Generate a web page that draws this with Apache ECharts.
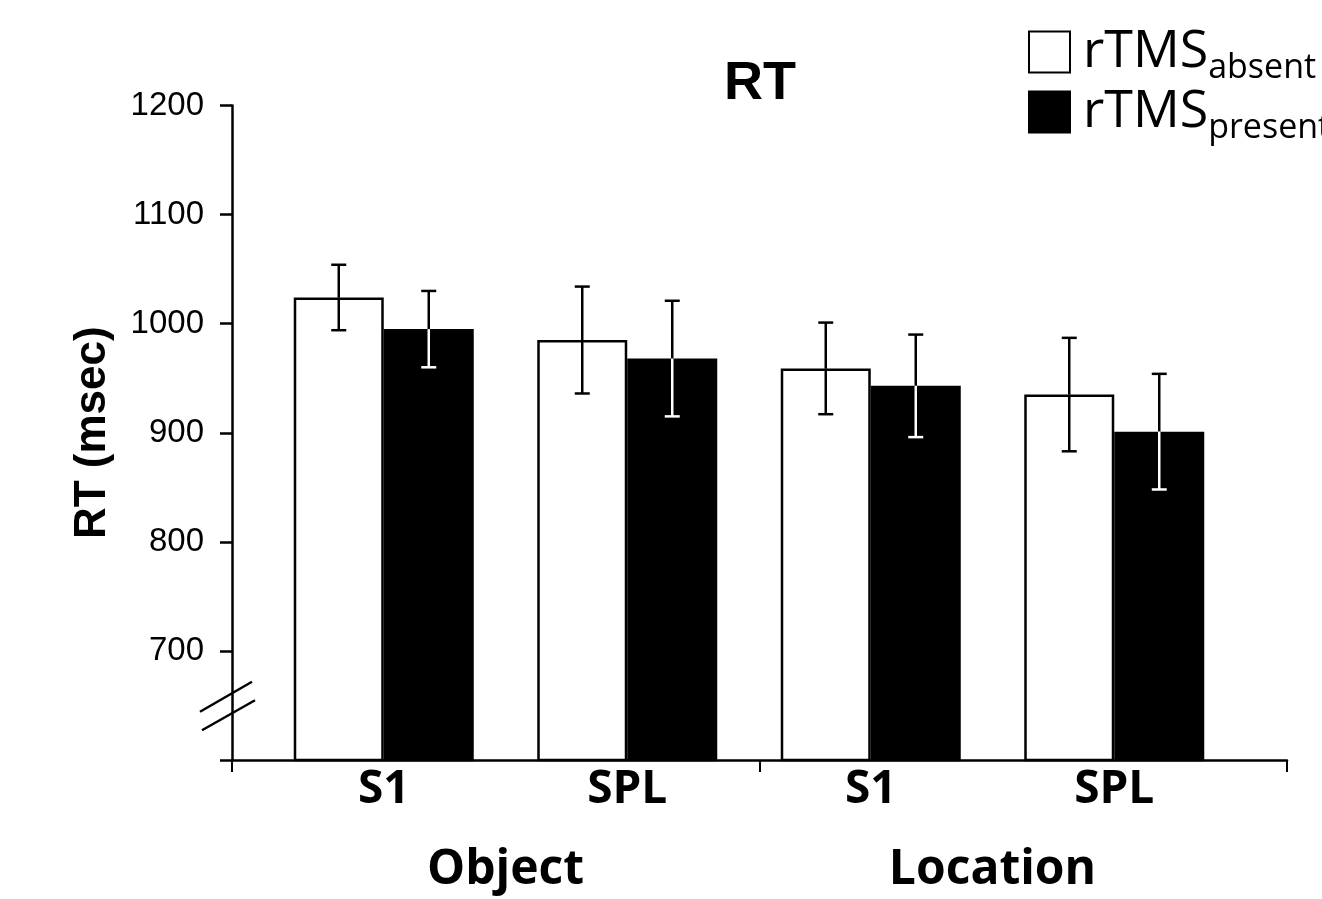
<!DOCTYPE html>
<html>
<head>
<meta charset="utf-8">
<script src="https://cdn.jsdelivr.net/npm/echarts@6/dist/echarts.min.js"></script>
<style>
html,body{margin:0;padding:0;background:#fff;}
#chart{width:1322px;height:899px;}
</style>
</head>
<body>
<div id="chart"></div>
<script>
// ---- data ----
const categories = ['S1', 'SPL', 'S1', 'SPL'];
const groups = ['Object', 'Location'];
const absentMean = [1024, 985, 959, 935];
const absentErr = [30, 49, 42, 52];
const presentMean = [995, 968, 943, 901];
const presentErr = [35, 53, 47, 53];
const yTicks = [600, 700, 800, 900, 1000, 1100, 1200];

const BAR_W = 90;
const CAP = 15;
const GRID_LEFT = 232;
const chart = echarts.init(document.getElementById('chart'));

function errRender(offsetSign, insideWhite) {
  return function (params, api) {
    const idx = api.value(0), m = api.value(1), e = api.value(2);
    const c = api.coord([idx, m]);
    const x = c[0] + offsetSign * BAR_W / 2;
    const yT = api.coord([idx, m + e])[1];
    const yB = api.coord([idx, m - e])[1];
    const yM = c[1];
    const lowColor = insideWhite ? '#fff' : '#000';
    const st = (col) => ({ stroke: col, lineWidth: 2.5 });
    return {
      type: 'group',
      children: [
        { type: 'line', shape: { x1: x, y1: yT, x2: x, y2: yM }, style: st('#000') },
        { type: 'line', shape: { x1: x, y1: yM, x2: x, y2: yB }, style: st(lowColor) },
        { type: 'line', shape: { x1: x - CAP / 2, y1: yT, x2: x + CAP / 2, y2: yT }, style: st('#000') },
        { type: 'line', shape: { x1: x - CAP / 2, y1: yB, x2: x + CAP / 2, y2: yB }, style: st(lowColor) }
      ]
    };
  };
}

const legendRich = {
  m: { fontFamily: 'Open Sans', fontSize: 52, color: '#000', padding: [0, 0, 0, 8] },
  s: { fontFamily: 'Open Sans', fontSize: 34, color: '#000', padding: [32, 0, 0, 0] }
};

const option = {
  backgroundColor: '#fff',
  animation: false,
  title: {
    text: 'RT',
    left: 755,
    textAlign: 'center',
    top: 52,
    textStyle: { fontFamily: 'Liberation Sans', fontWeight: 'bold', fontSize: 54, color: '#000' }
  },
  legend: {
    orient: 'vertical',
    left: 1028,
    top: 26,
    padding: 0,
    icon: 'rect',
    itemWidth: 41,
    itemHeight: 41,
    itemGap: 1,
    selectedMode: false,
    data: ['rTMS_absent', 'rTMS_present'],
    formatter: function (name) {
      const sub = name.split('_')[1];
      return '{m|rTMS}{s|' + sub + '}';
    },
    textStyle: { rich: legendRich }
  },
  grid: [
    { left: GRID_LEFT, right: 35, top: 105.5, bottom: 139 },
    { left: 262, right: 86, top: 105.5, bottom: 139 }
  ],
  xAxis: [
    {
      type: 'category', gridIndex: 0, data: groups,
      axisLine: { lineStyle: { color: '#000', width: 2.5 } },
      axisTick: { show: true, length: 12, lineStyle: { color: '#000', width: 2 } },
      axisLabel: { show: false }
    },
    {
      type: 'category', gridIndex: 1, data: categories, position: 'bottom',
      axisLine: { show: false }, axisTick: { show: false },
      axisLabel: { margin: 7, fontFamily: 'Open Sans', fontWeight: 'bold', fontSize: 46, color: '#000' }
    },
    {
      type: 'category', gridIndex: 1, data: groups, position: 'bottom',
      axisLine: { show: false }, axisTick: { show: false },
      axisLabel: { margin: 86, fontFamily: 'Open Sans', fontWeight: 'bold', fontSize: 48, color: '#000' }
    }
  ],
  yAxis: [
    {
      type: 'value', gridIndex: 0, min: yTicks[0], max: yTicks[yTicks.length - 1], interval: 100,
      name: 'RT (msec)', nameLocation: 'middle', nameRotate: 90, nameGap: 117,
      nameTextStyle: { fontFamily: 'Liberation Sans', fontWeight: 'bold', fontSize: 44, color: '#000' },
      axisLine: { show: true, lineStyle: { color: '#000', width: 2.5 } },
      axisTick: { show: true, length: 12, lineStyle: { color: '#000', width: 2.5 } },
      splitLine: { show: false },
      axisLabel: {
        margin: 28, fontFamily: 'Liberation Sans', fontSize: 33, color: '#000',
        formatter: v => (v === yTicks[0] ? '' : String(v))
      }
    },
    { type: 'value', gridIndex: 1, min: yTicks[0], max: yTicks[yTicks.length - 1], show: false }
  ],
  series: [
    {
      name: 'rTMS_absent', type: 'bar', xAxisIndex: 1, yAxisIndex: 1,
      barWidth: BAR_W, barGap: '0%',
      itemStyle: { color: '#fff', borderColor: '#000', borderWidth: 2.5 },
      data: absentMean
    },
    {
      name: 'rTMS_present', type: 'bar', xAxisIndex: 1, yAxisIndex: 1,
      barWidth: BAR_W, barGap: '0%',
      itemStyle: { color: '#000', borderColor: '#000', borderWidth: 2.5 },
      data: presentMean
    },
    {
      type: 'custom', xAxisIndex: 1, yAxisIndex: 1, z: 5,
      renderItem: errRender(-1, false),
      encode: { x: 0, y: 1 },
      data: absentMean.map((m, i) => [i, m, absentErr[i]])
    },
    {
      type: 'custom', xAxisIndex: 1, yAxisIndex: 1, z: 5,
      renderItem: errRender(1, true),
      encode: { x: 0, y: 1 },
      data: presentMean.map((m, i) => [i, m, presentErr[i]])
    }
  ]
};
chart.setOption(option);

// axis-break marks on the y axis
const yA = chart.convertToPixel({ yAxisIndex: 0 }, 658);
const yB = chart.convertToPixel({ yAxisIndex: 0 }, 641);
const x0 = GRID_LEFT;
chart.setOption({
  graphic: [
    { type: 'line', shape: { x1: x0 - 32, y1: yA + 15, x2: x0 + 20, y2: yA - 15 }, style: { stroke: '#000', lineWidth: 2.5 }, z: 10 },
    { type: 'line', shape: { x1: x0 - 30, y1: yB + 15, x2: x0 + 23, y2: yB - 15 }, style: { stroke: '#000', lineWidth: 2.5 }, z: 10 }
  ]
});
</script>
</body>
</html>
